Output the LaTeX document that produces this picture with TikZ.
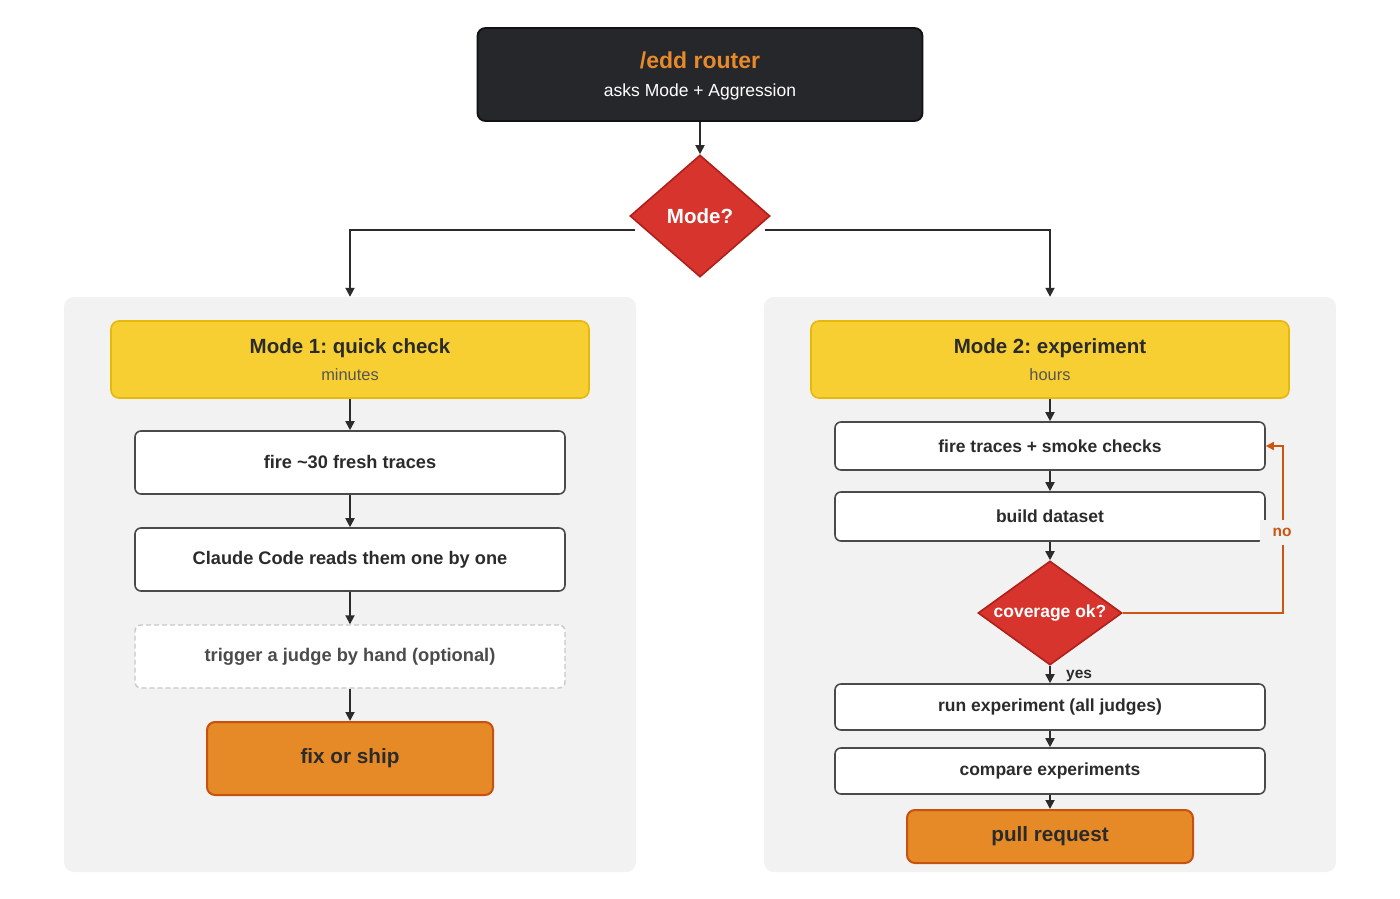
\documentclass[tikz,border=0pt]{standalone}
\usepackage{fontspec}
\setmainfont{Liberation Sans}
\usetikzlibrary{arrows.meta,shapes.geometric,calc}
\frenchspacing
\definecolor{routerfill}{HTML}{25272A}
\definecolor{routeredge}{HTML}{111213}
\definecolor{titleorange}{HTML}{E8892A}
\definecolor{redfill}{HTML}{D6342C}
\definecolor{rededge}{HTML}{B01F1A}
\definecolor{panelbg}{HTML}{F2F2F2}
\definecolor{yellowfill}{HTML}{F8CF33}
\definecolor{yellowedge}{HTML}{E6B80B}
\definecolor{boxedge}{HTML}{4A4A4A}
\definecolor{dashedge}{HTML}{C9C9CD}
\definecolor{orangefill}{HTML}{E58A26}
\definecolor{orangeedge}{HTML}{C75110}
\definecolor{loopcol}{HTML}{CC5512}
\definecolor{textdark}{HTML}{2B2B2B}
\definecolor{subgray}{HTML}{555555}
\newcommand{\fs}[1]{\fontsize{#1}{#1}\selectfont}
\tikzset{
  x=1pt,y=-1pt,
  conn/.style={draw=textdark,line width=1.8pt,-{Triangle[length=9pt,width=9pt]}},
  panel/.style={fill=panelbg,rounded corners=10pt,inner sep=0pt},
  stepbox/.style={draw=boxedge,fill=white,line width=1.6pt,rounded corners=6pt,minimum width=430pt,inner sep=0pt,font=\fs{17.5}\bfseries,text=textdark},
  dashbox/.style={draw=dashedge,fill=white,line width=1.4pt,dash pattern=on 5pt off 3pt,rounded corners=6pt,minimum width=430pt,minimum height=63pt,inner sep=0pt,font=\fs{18.3}\bfseries,text=textdark!85},
  headbox/.style={draw=yellowedge,fill=yellowfill,line width=1.6pt,rounded corners=8pt,minimum width=478pt,minimum height=77pt,inner sep=0pt,align=center,text=textdark},
  endbox/.style={draw=orangeedge,fill=orangefill,line width=2pt,rounded corners=8pt,minimum width=286pt,inner sep=0pt,font=\fs{20.7}\bfseries,text=textdark},
  decide/.style={diamond,draw=rededge,fill=redfill,line width=1.6pt,inner sep=0pt,text=white,font=\bfseries},
}
\begin{document}
\begin{tikzpicture}
\useasboundingbox (0,0) rectangle (1400,899);
\fill[white] (0,0) rectangle (1400,899);
% panels
\node[panel,minimum width=572pt,minimum height=575pt] (p1) at (350,584.5) {};
\node[panel,minimum width=572pt,minimum height=575pt] (p2) at (1050,584.5) {};
% router
\node[draw=routeredge,fill=routerfill,line width=1.8pt,rounded corners=8pt,minimum width=445pt,minimum height=93pt,inner sep=0pt] (router) at (700,74.5) {};
\node[font=\fs{23}\bfseries,text=titleorange,inner sep=0pt] (rtitle) at (700,60.5) {/edd router};
\node[font=\fs{17.5},text=white,inner sep=0pt] (rsub) at (700,91.5) {asks Mode + Aggression};
% mode diamond
\node[decide,aspect=1.15,minimum width=140pt,minimum height=122pt,font=\fs{20.5}\bfseries] (mode) at (700,216) {Mode?};
\draw[conn] (router.south) -- (mode.north);
\draw[conn] ($(mode.west)+(6,14)$) -| (p1.north);
\draw[conn] ($(mode.east)+(-6,14)$) -| (p2.north);
% left column
\node[headbox] (h1) at (350,359.5) {{\fs{20.5}\bfseries Mode 1: quick check}\\[10pt]{\fs{16.4}\color{subgray}minutes}};
\node[stepbox,minimum height=63pt,font=\fs{18.2}\bfseries] (a1) at (350,462.5) {fire {\char"007E}30 fresh traces};
\node[stepbox,minimum height=63pt,font=\fs{18.2}\bfseries] (a2) at (350,559.5) {Claude Code reads them one by one};
\node[dashbox] (a3) at (350,656.5) {trigger a judge by hand (optional)};
\node[endbox,minimum height=73pt] (a4) at (350,758.5) {fix or ship};
\draw[conn] (h1.south) -- (a1.north);
\draw[conn] (a1.south) -- (a2.north);
\draw[conn] (a2.south) -- (a3.north);
\draw[conn] (a3.south) -- (a4.north);
% right column
\node[headbox] (h2) at (1050,359.5) {{\fs{20.5}\bfseries Mode 2: experiment}\\[10pt]{\fs{16.4}\color{subgray}hours}};
\node[stepbox,minimum height=48pt] (b1) at (1050,446) {fire traces + smoke checks};
\node[stepbox,minimum height=49pt] (b2) at (1050,516.5) {build dataset};
\node[decide,aspect=1.4,minimum width=144pt,minimum height=104pt,font=\fs{17.5}\bfseries] (cov) at (1050,613) {coverage ok?};
\node[stepbox,minimum height=46pt] (b3) at (1050,707) {run experiment (all judges)};
\node[stepbox,minimum height=46pt] (b4) at (1050,771) {compare experiments};
\node[endbox,minimum height=53pt] (b5) at (1050,836.5) {pull request};
\draw[conn] (h2.south) -- (b1.north);
\draw[conn] (b1.south) -- (b2.north);
\draw[conn] (b2.south) -- (cov.north);
\draw[conn] (cov.south) -- (b3.north);
\draw[conn] (b3.south) -- (b4.north);
\draw[conn] (b4.south) -- (b5.north);
\node[font=\fs{15.5}\bfseries,text=textdark,anchor=west,inner sep=0pt] (yes) at (1066,676) {yes};
% loop back
\draw[draw=loopcol,line width=1.8pt,-{Triangle[length=8pt,width=8pt]}] (cov.east) -- ++(160,0) coordinate (lp) |- (b1.east);
\node[fill=panelbg,minimum width=44pt,minimum height=25pt,inner sep=0pt,font=\fs{15.5}\bfseries,text=loopcol] (no) at (1282,532) {no};
\end{tikzpicture}
\end{document}
